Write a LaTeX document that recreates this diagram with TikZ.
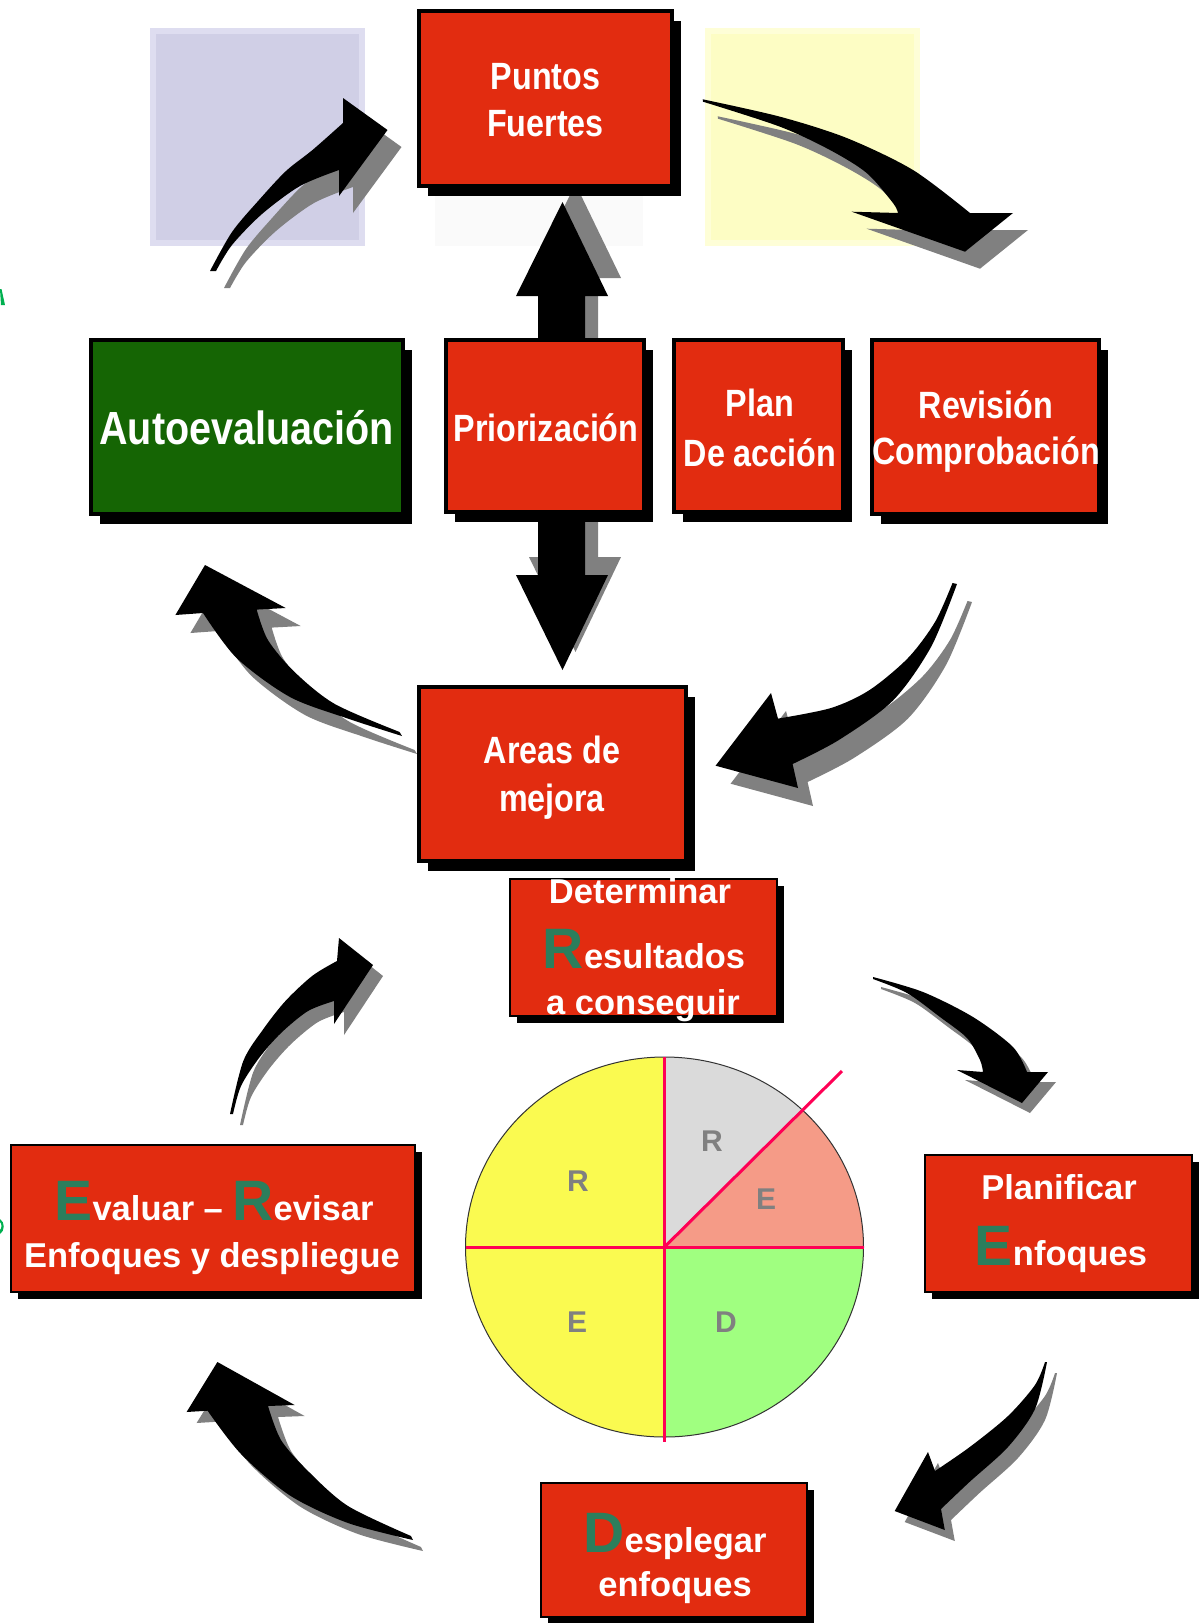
\documentclass[tikz,border=0pt]{standalone}
\usepackage{fontspec}
\setmainfont{Liberation Sans}
\newfontfamily\narrowfont{Liberation Sans}[FakeStretch=0.85]
\usetikzlibrary{shadows}

\definecolor{boxred}{RGB}{226,44,16}
\definecolor{boxgreen}{RGB}{21,101,4}
\definecolor{lavender}{RGB}{208,207,230}
\definecolor{lavedge}{RGB}{222,221,240}
\definecolor{paleyellow}{RGB}{253,253,196}
\definecolor{paleedge}{RGB}{254,254,215}
\definecolor{faintgray}{RGB}{250,250,250}
\definecolor{initialgreen}{RGB}{44,126,92}
\definecolor{arrowgray}{RGB}{128,128,128}
\definecolor{pieyellow}{RGB}{250,250,80}
\definecolor{piegreen}{RGB}{160,255,128}
\definecolor{piegray}{RGB}{218,218,218}
\definecolor{piesalmon}{RGB}{245,155,135}
\definecolor{pieline}{RGB}{255,0,85}
\definecolor{piegrayletter}{RGB}{128,128,128}
\definecolor{edgegreen}{RGB}{0,176,80}

% large initial letter in green
\newcommand{\bigini}[1]{{\fontsize{57}{57}\selectfont\color{initialgreen}#1}}

% curved block arrows (outlines)
\newcommand{\cArrowA}{plot[smooth] coordinates {(210,271) (232,232) (259,200) (286,171) (312.5,150) (343,123)} -- (343,98) -- (387.5,130) -- (339,196) -- (339,170) -- plot[smooth] coordinates {(339,170) (300,186) (262,214) (232,245) (216,271)} -- cycle}
\newcommand{\cArrowB}{plot[smooth] coordinates {(230,1114) (243.3,1061) (263.4,1029) (285.7,1000.7) (312.5,975.7) (337,961)} -- (339,938) -- (373,965) -- (334,1024) -- (334,1001) -- plot[smooth] coordinates {(334,1001) (308,1011) (281,1033) (259,1058) (241,1086) (233,1114)} -- cycle}
\newcommand{\cArrowC}{plot[smooth] coordinates {(702.7,99.3) (780,116.7) (846.7,138) (913,170) (970,213)} -- (1013,213) -- (965,251.7) -- (851.7,211.7) -- (898,213) -- plot[smooth] coordinates {(898,213) (893,203) (866.7,173) (830,150) (780,126.7) (703,101.7)} -- cycle}
\newcommand{\cArrowD}{plot[smooth] coordinates {(952.5,583) (935,622) (908,658) (869.6,690) (831,708) (778,718.6)} -- (771,693) -- (715.6,765.7) -- (798,788) -- (792.6,764) -- plot[smooth] coordinates {(792.6,764) (838.8,740) (892.8,700.7) (931,647) (957,584)} -- cycle}
\newcommand{\cArrowE}{(205,565) -- (175.4,615) -- (203,613) -- plot[smooth] coordinates {(203,613) (236.6,658) (290,697) (348,718.6) (402,736)} -- plot[smooth] coordinates {(399.6,732) (334.8,704) (294.6,672) (267.9,640) (256.7,609.6)} -- (285.7,608) -- cycle}
\newcommand{\cArrowF}{plot[smooth] coordinates {(873,977) (923,992) (973,1017) (1013,1047) (1027,1072)} -- (1048,1072) -- (1022,1103) -- (957,1070) -- (983,1072) -- plot[smooth] coordinates {(983,1072) (980,1060) (967,1038) (940,1017) (907,993) (873,979)} -- cycle}
\newcommand{\cArrowG}{plot[smooth] coordinates {(1047,1362) (1035,1409) (1008,1447) (969.8,1481.7) (941,1509)} -- (944.8,1530) -- (894.7,1511) -- (928,1452) -- (935,1471) -- plot[smooth] coordinates {(935,1471) (969.8,1447) (1008,1416) (1035,1385) (1045,1362)} -- cycle}
\newcommand{\cArrowH}{(217.4,1362) -- (186.6,1412) -- (207.6,1410.7) -- plot[smooth] coordinates {(207.6,1410.7) (241,1454) (290,1495.5) (348,1523) (413,1540)} -- plot[smooth] coordinates {(411,1536) (348,1506) (308,1471) (281,1440) (268,1406)} -- (294.6,1405) -- cycle}
% straight double block arrow
\newcommand{\dArrow}{(562.5,202) -- (608,296) -- (585,296) -- (585,575) -- (608,575) -- (562.5,670) -- (516,575) -- (538,575) -- (538,296) -- (516,296) -- cycle}

\begin{document}
\begin{tikzpicture}[x=1pt,y=-1pt,
  upbox/.style={rectangle, draw=black, line width=4pt, fill=boxred, inner sep=0pt,
    drop shadow={shadow xshift=9pt, shadow yshift=-10pt, fill=black, opacity=1}},
  lowbox/.style={rectangle, draw=black, line width=2pt, fill=boxred, inner sep=0pt,
    drop shadow={shadow xshift=7pt, shadow yshift=-7pt, fill=black, opacity=1}},
  uplabel/.style={anchor=base, inner sep=0pt, text=white,
    font=\narrowfont\bfseries\fontsize{38}{44}\selectfont},
  lowlabel/.style={anchor=base, inner sep=0pt, text=white,
    font=\bfseries\fontsize{34.5}{40}\selectfont},
  pielabel/.style={inner sep=0pt, text=piegrayletter,
    font=\bfseries\fontsize{30}{34}\selectfont},
  arrowshadow/.style={fill=arrowgray},
  arrowbody/.style={fill=black},
  piesep/.style={draw=pieline, line width=3pt}]

\clip (0,0) rectangle (1204,1623);
\fill[white] (0,0) rectangle (1204,1623);

% background panels
\fill[faintgray] (435,27) rectangle (643,246);
\filldraw[fill=lavender, draw=lavedge, line width=6pt] (153,30.5) rectangle (362,243);
\filldraw[fill=paleyellow, draw=paleedge, line width=6pt] (708,30.5) rectangle (917,243);

% double block arrow between the top boxes
\begin{scope}[shift={(13,-18)}]\fill[arrowshadow] \dArrow;\end{scope}
\fill[arrowbody] \dArrow;

% curved arrows with their shadows
\begin{scope}[shift={(14,17)}]\fill[arrowshadow] \cArrowA;\end{scope}
\fill[arrowbody] \cArrowA;
\begin{scope}[shift={(10,11)}]\fill[arrowshadow] \cArrowB;\end{scope}
\fill[arrowbody] \cArrowB;
\begin{scope}[shift={(15,17)}]\fill[arrowshadow] \cArrowC;\end{scope}
\fill[arrowbody] \cArrowC;
\begin{scope}[shift={(15,18)}]\fill[arrowshadow] \cArrowD;\end{scope}
\fill[arrowbody] \cArrowD;
\begin{scope}[shift={(15,18)}]\fill[arrowshadow] \cArrowE;\end{scope}
\fill[arrowbody] \cArrowE;
\begin{scope}[shift={(8,10)}]\fill[arrowshadow] \cArrowF;\end{scope}
\fill[arrowbody] \cArrowF;
\begin{scope}[shift={(10,11)}]\fill[arrowshadow] \cArrowG;\end{scope}
\fill[arrowbody] \cArrowG;
\begin{scope}[shift={(10,11)}]\fill[arrowshadow] \cArrowH;\end{scope}
\fill[arrowbody] \cArrowH;

% boxes of the upper cycle
\node[upbox, minimum width=253.5pt, minimum height=174.5pt] (puntos) at (545.25,98.25) {};
\node[upbox, fill=boxgreen, minimum width=311.5pt, minimum height=174.5pt] (autoeval) at (246.75,426.75) {};
\node[upbox, minimum width=198pt, minimum height=172.5pt] (prior) at (545,425.75) {};
\node[upbox, minimum width=168.6pt, minimum height=172.5pt] (plan) at (758.3,425.75) {};
\node[upbox, minimum width=227.2pt, minimum height=174.5pt] (revision) at (985.2,426.75) {};
\node[upbox, minimum width=267pt, minimum height=173.5pt] (areas) at (552,773.75) {};

% boxes of the lower cycle
\node[lowbox, minimum width=267pt, minimum height=137pt] (determinar) at (643.5,947.5) {};
\node[lowbox, minimum width=404pt, minimum height=147pt] (evaluar) at (213,1218.5) {};
\node[lowbox, minimum width=267.4pt, minimum height=137.2pt] (planificar) at (1058.3,1223.4) {};
\node[lowbox, minimum width=266pt, minimum height=134pt] (desplegar) at (674,1549.5) {};

% labels of the upper cycle
\node[uplabel] (pf1) at (545.5,89) {Puntos};
\node[uplabel] (pf2) at (545.5,136) {Fuertes};
\node[uplabel, font=\narrowfont\bfseries\fontsize{46.5}{50}\selectfont] (ae) at (246.5,444.5) {Autoevaluación};
\node[uplabel] (pz) at (546,441) {Priorización};
\node[uplabel] (pl1) at (760,416) {Plan};
\node[uplabel] (pl2) at (760,466) {De acción};
\node[uplabel] (rv1) at (986,418) {Revisión};
\node[uplabel] (rv2) at (986,464) {Comprobación};
\node[uplabel] (am1) at (552,763) {Areas de};
\node[uplabel] (am2) at (552,811) {mejora};

% labels of the lower cycle
\node[lowlabel] (dr1) at (640,903.5) {Determinar};
\node[lowlabel] (dr2) at (644,968) {\bigini{R}esultados};
\node[lowlabel] (dr3) at (643,1014) {a conseguir};
\node[lowlabel] (er1) at (214,1220) {\bigini{E}valuar – \bigini{R}evisar};
\node[lowlabel] (er2) at (212,1267) {Enfoques y despliegue};
\node[lowlabel] (pe1) at (1059,1199.5) {Planificar};
\node[lowlabel] (pe2) at (1061,1265) {\bigini{E}nfoques};
\node[lowlabel] (de1) at (675,1552) {\bigini{D}esplegar};
\node[lowlabel] (de2) at (675,1596.5) {enfoques};

% REDR pie
\fill[pieyellow] (664.5,1247) -- (664.5,1057) arc[start angle=90, end angle=270, x radius=199pt, y radius=190pt] -- cycle;
\fill[piegreen] (664.5,1247) -- (664.5,1437) arc[start angle=270, end angle=360, x radius=199pt, y radius=190pt] -- cycle;
\fill[piesalmon] (664.5,1247) -- (863.5,1247) arc[start angle=0, end angle=46, x radius=199pt, y radius=190pt] -- cycle;
\fill[piegray] (664.5,1247) -- (664.5,1057) arc[start angle=90, end angle=46, x radius=199pt, y radius=190pt] -- cycle;
\draw[line width=1pt, black!80] (664.5,1247) ellipse [x radius=199pt, y radius=190pt];
\draw[piesep] (664,1057) -- (664,1442);
\draw[piesep] (465.5,1247) -- (863.5,1247);
\draw[piesep] (664.5,1247) -- (842,1071);
\node[pielabel] (pr1) at (578,1181) {R};
\node[pielabel] (pe3) at (577,1322) {E};
\node[pielabel] (pr2) at (712,1141) {R};
\node[pielabel] (pe4) at (766,1199) {E};
\node[pielabel] (pd) at (726,1322) {D};

% glyph pieces at the left edge
\fill[edgegreen] (0,289) -- (1.5,289) -- (5,305) -- (1,305) -- cycle;
\fill[edgegreen] (0,1219) .. controls (5,1222) and (5,1231) .. (0,1234) -- (0,1230) .. controls (2,1228) and (2,1224) .. (0,1222) -- cycle;
\end{tikzpicture}
\end{document}
